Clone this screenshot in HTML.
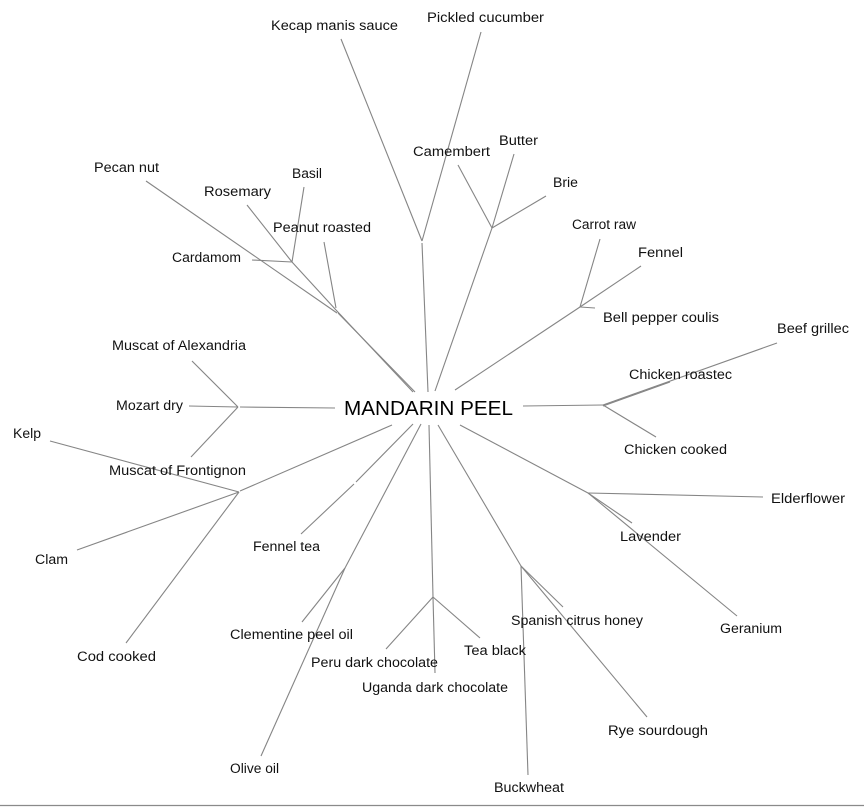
<!DOCTYPE html>
<html>
<head>
<meta charset="utf-8">
<style>
html,body{margin:0;padding:0;background:#fff;}
svg{display:block;}
text{font-family:"Liberation Sans",Arial,sans-serif;font-size:13.5px;fill:#111;}
.c{font-size:20.5px;fill:#000;}
line,polyline{stroke:#858585;stroke-width:1.1;fill:none;}
</style>
</head>
<body>
<svg width="864" height="807" viewBox="0 0 864 807" xmlns="http://www.w3.org/2000/svg">
<rect width="864" height="807" fill="#fff"/>
<!-- bottom border -->
<line x1="0" y1="805.5" x2="864" y2="805.5" style="stroke:#8a8a8a;stroke-width:1.3"/>

<!-- top: Kecap / Pickled -->
<line x1="341" y1="39" x2="422" y2="241"/>
<line x1="481" y1="32" x2="422" y2="241"/>
<line x1="422" y1="243" x2="428" y2="392"/>

<!-- cheese -->
<line x1="458" y1="165" x2="492" y2="228"/>
<line x1="514" y1="154" x2="492" y2="228"/>
<line x1="546" y1="196" x2="492" y2="228"/>
<line x1="492" y1="228" x2="435" y2="391"/>

<!-- herbs -->
<line x1="304" y1="187" x2="292" y2="262"/>
<line x1="247" y1="205" x2="292" y2="262"/>
<line x1="252" y1="260" x2="292" y2="262"/>
<line x1="292" y1="262" x2="336" y2="310"/>
<line x1="324" y1="242" x2="336" y2="308"/>
<line x1="336" y1="310" x2="413" y2="392"/>
<!-- pecan -->
<line x1="146" y1="181" x2="337" y2="313"/>
<line x1="338" y1="313" x2="415" y2="392"/>

<!-- carrot group -->
<line x1="600" y1="239" x2="580" y2="307"/>
<line x1="641" y1="266" x2="580" y2="307"/>
<line x1="595" y1="308" x2="580" y2="307"/>
<line x1="580" y1="307" x2="455" y2="390"/>

<!-- chicken group -->
<line x1="523" y1="406" x2="603" y2="405"/>
<line x1="603" y1="405" x2="777" y2="343"/>
<line x1="603" y1="406" x2="670" y2="382"/>
<line x1="603" y1="405" x2="656" y2="437"/>

<!-- elderflower group -->
<line x1="460" y1="425" x2="588" y2="493"/>
<line x1="588" y1="493" x2="763" y2="497"/>
<line x1="588" y1="493" x2="632" y2="523"/>
<line x1="588" y1="493" x2="737" y2="616"/>

<!-- spanish/rye/buckwheat -->
<line x1="438" y1="425" x2="521" y2="566"/>
<line x1="521" y1="566" x2="563" y2="607"/>
<line x1="521" y1="566" x2="647" y2="717"/>
<line x1="521" y1="566" x2="528" y2="775"/>

<!-- chocolate -->
<line x1="429" y1="425" x2="433" y2="597"/>
<line x1="433" y1="597" x2="386" y2="649"/>
<line x1="433" y1="597" x2="480" y2="638"/>
<line x1="433" y1="597" x2="435" y2="673"/>

<!-- olive/clementine -->
<line x1="421" y1="424" x2="345" y2="568"/>
<line x1="345" y1="568" x2="302" y2="622"/>
<line x1="345" y1="568" x2="261" y2="756"/>

<!-- fennel tea -->
<line x1="413" y1="424" x2="356" y2="482"/>
<line x1="354" y1="484" x2="301" y2="534"/>

<!-- kelp/clam/cod -->
<line x1="392" y1="425" x2="240" y2="491"/>
<line x1="50" y1="441" x2="239" y2="492"/>
<line x1="77" y1="550" x2="239" y2="492"/>
<line x1="126" y1="643" x2="239" y2="492"/>

<!-- muscat group -->
<line x1="192" y1="361" x2="238" y2="407"/>
<line x1="189" y1="406" x2="238" y2="407"/>
<line x1="191" y1="457" x2="238" y2="407"/>
<line x1="240" y1="407" x2="335" y2="408"/>

<!-- labels -->
<text class="c" x="344" y="415" textLength="169" lengthAdjust="spacingAndGlyphs">MANDARIN PEEL</text>

<text x="271" y="30" textLength="127" lengthAdjust="spacingAndGlyphs">Kecap manis sauce</text>
<text x="427" y="22" textLength="117" lengthAdjust="spacingAndGlyphs">Pickled cucumber</text>
<text x="413" y="156" textLength="77" lengthAdjust="spacingAndGlyphs">Camembert</text>
<text x="499" y="145" textLength="39" lengthAdjust="spacingAndGlyphs">Butter</text>
<text x="553" y="187" textLength="25" lengthAdjust="spacingAndGlyphs">Brie</text>
<text x="292" y="178" textLength="30" lengthAdjust="spacingAndGlyphs">Basil</text>
<text x="204" y="196" textLength="67" lengthAdjust="spacingAndGlyphs">Rosemary</text>
<text x="273" y="232" textLength="98" lengthAdjust="spacingAndGlyphs">Peanut roasted</text>
<text x="94" y="172" textLength="65" lengthAdjust="spacingAndGlyphs">Pecan nut</text>
<text x="172" y="262" textLength="69" lengthAdjust="spacingAndGlyphs">Cardamom</text>
<text x="572" y="229" textLength="64" lengthAdjust="spacingAndGlyphs">Carrot raw</text>
<text x="638" y="257" textLength="45" lengthAdjust="spacingAndGlyphs">Fennel</text>
<text x="603" y="322" textLength="116" lengthAdjust="spacingAndGlyphs">Bell pepper coulis</text>
<text x="777" y="333" textLength="72" lengthAdjust="spacingAndGlyphs">Beef grillec</text>
<text x="629" y="379" textLength="103" lengthAdjust="spacingAndGlyphs">Chicken roastec</text>
<text x="624" y="454" textLength="103" lengthAdjust="spacingAndGlyphs">Chicken cooked</text>
<text x="771" y="503" textLength="74" lengthAdjust="spacingAndGlyphs">Elderflower</text>
<text x="620" y="541" textLength="61" lengthAdjust="spacingAndGlyphs">Lavender</text>
<text x="720" y="633" textLength="62" lengthAdjust="spacingAndGlyphs">Geranium</text>
<text x="511" y="625" textLength="132" lengthAdjust="spacingAndGlyphs">Spanish citrus honey</text>
<text x="608" y="735" textLength="100" lengthAdjust="spacingAndGlyphs">Rye sourdough</text>
<text x="494" y="792" textLength="70" lengthAdjust="spacingAndGlyphs">Buckwheat</text>
<text x="464" y="655" textLength="62" lengthAdjust="spacingAndGlyphs">Tea black</text>
<text x="362" y="692" textLength="146" lengthAdjust="spacingAndGlyphs">Uganda dark chocolate</text>
<text x="311" y="667" textLength="127" lengthAdjust="spacingAndGlyphs">Peru dark chocolate</text>
<text x="230" y="639" textLength="123" lengthAdjust="spacingAndGlyphs">Clementine peel oil</text>
<text x="230" y="773" textLength="49" lengthAdjust="spacingAndGlyphs">Olive oil</text>
<text x="253" y="551" textLength="67" lengthAdjust="spacingAndGlyphs">Fennel tea</text>
<text x="112" y="350" textLength="134" lengthAdjust="spacingAndGlyphs">Muscat of Alexandria</text>
<text x="116" y="410" textLength="67" lengthAdjust="spacingAndGlyphs">Mozart dry</text>
<text x="13" y="438" textLength="28" lengthAdjust="spacingAndGlyphs">Kelp</text>
<text x="109" y="475" textLength="137" lengthAdjust="spacingAndGlyphs">Muscat of Frontignon</text>
<text x="35" y="564" textLength="33" lengthAdjust="spacingAndGlyphs">Clam</text>
<text x="77" y="661" textLength="79" lengthAdjust="spacingAndGlyphs">Cod cooked</text>
</svg>
</body>
</html>
